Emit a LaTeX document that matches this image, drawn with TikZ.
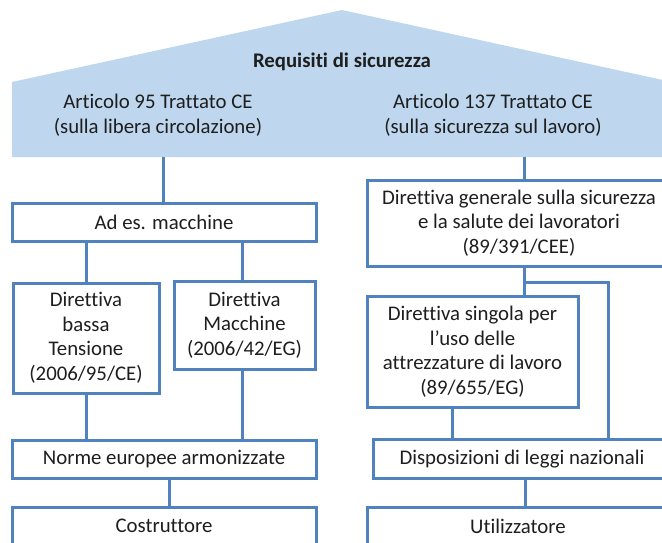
\documentclass[tikz,border=0pt]{standalone}
\usepackage{fontspec}
\setmainfont{Carlito}[Ligatures={NoCommon}]
\definecolor{roofblue}{RGB}{190,215,238}
\definecolor{lineblue}{RGB}{80,130,190}
\definecolor{txtgray}{RGB}{30,30,30}
\tikzset{
  txt/.style={text=txtgray,align=center,font=\fontsize{20.8}{24.5}\selectfont},
  box/.style={txt,draw=lineblue,line width=3pt,fill=white,inner sep=0pt},
  link/.style={draw=lineblue,line width=3pt},
}

\begin{document}
\begin{tikzpicture}[x=1pt,y=-1pt]
\useasboundingbox(0,0)rectangle(662,542);
\clip(0,0)rectangle(662,542);
% roof
\fill[roofblue](12,157)--(12,82)--(342,10)--(672,82)--(672,157)--cycle;
\node[txt](req)at(342,62){\textbf{Requisiti di sicurezza}};
\node[txt](art95)at(158,115){Articolo 95 Trattato CE\\(sulla libera circolazione)};
\node[txt](art137)at(493,115){Articolo 137 Trattato CE\\(sulla sicurezza sul lavoro)};
\coordinate(roofL)at(163,157);
\coordinate(roofR)at(524,157);
% left branch
\node[box,minimum width=304pt,minimum height=38pt](esempio)at(164,222){Ad es. macchine};
\node[box,minimum width=146pt,minimum height=110pt](bassa)at(86,338){Direttiva\\bassa\\Tensione\\(2006/95/CE)};
\node[box,minimum width=141pt,minimum height=88pt](macchine)at(244.5,325){Direttiva\\Macchine\\(2006/42/EG)};
\node[box,minimum width=304pt,minimum height=38pt](norme)at(164,459){Norme europee armonizzate};
\node[box,minimum width=304pt,minimum height=38pt](costr)at(164,526){Costruttore};
% right branch
\node[box,minimum width=304pt,minimum height=86pt](generale)at(519,223){Direttiva generale sulla sicurezza\\e la salute dei lavoratori\\(89/391/CEE)};
\node[box,minimum width=211pt,minimum height=111pt](singola)at(472.5,351.5){Direttiva singola per\\l’uso delle\\attrezzature di lavoro\\(89/655/EG)};
\node[box,minimum width=298pt,minimum height=39pt](dispos)at(522,459){Disposizioni di leggi nazionali};
\node[box,minimum width=302pt,minimum height=38pt](utiliz)at(518,526){Utilizzatore};
\coordinate(split)at(524,282);
\coordinate(bend)at(608,282);
\draw[link](roofL)--(roofL|-esempio.north)(roofR)--(roofR|-generale.north);
\draw[link](bassa.north)--(bassa.north|-esempio.south)([xshift=-2.5pt]macchine.north)--([xshift=-2.5pt]macchine.north|-esempio.south);
\draw[link](bassa.south)--(bassa.south|-norme.north)([xshift=-2.5pt]macchine.south)--([xshift=-2.5pt]macchine.south|-norme.north);
\draw[link]([xshift=5pt]norme.south)--([xshift=5pt]norme.south|-costr.north);
\draw[link](split|-generale.south)--(split|-singola.north)(split)--(bend)--(bend|-dispos.north);
\draw[link]([xshift=-20pt]singola.south)--([xshift=-20pt]singola.south|-dispos.north);
\draw[link]([xshift=3pt]dispos.south)--([xshift=3pt]dispos.south|-utiliz.north);
\end{tikzpicture}
\end{document}
